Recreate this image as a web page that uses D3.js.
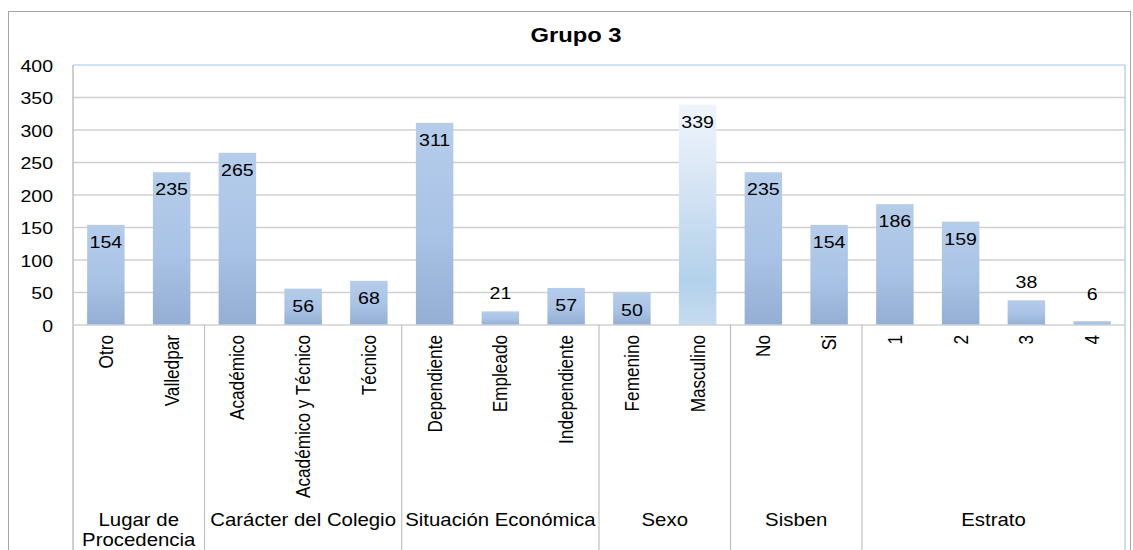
<!DOCTYPE html>
<html>
<head>
<meta charset="utf-8">
<script src="https://cdn.jsdelivr.net/npm/d3@7"></script>
<style>
  html, body { margin: 0; padding: 0; background: #fff; }
  svg { display: block; font-family: "Liberation Sans", Arial, sans-serif; }
</style>
</head>
<body>
<svg id="chart" width="1133" height="550"></svg>
<script>
// Category labels, in drawing order
const categories = ["Otro", "Valledpar", "Académico", "Académico y Técnico", "Técnico",
  "Dependiente", "Empleado", "Independiente", "Femenino", "Masculino",
  "No", "Si", "1", "2", "3", "4"];
// Counts for each category
const values = [154, 235, 265, 56, 68, 311, 21, 57, 50, 339, 235, 154, 186, 159, 38, 6];
// Grouping of categories (label lines, number of categories)
const groupNames = [["Lugar de", "Procedencia"], ["Carácter del Colegio"], ["Situación Económica"],
  ["Sexo"], ["Sisben"], ["Estrato"]];
const groupSizes = [2, 3, 3, 2, 2, 4];
const yTicks = [0, 50, 100, 150, 200, 250, 300, 350, 400];
const title = "Grupo 3";

const svg = d3.select("#chart");
const W = 1133, H = 550;
const plot = { left: 73, right: 1125, top: 65, bottom: 325 };
const SX = 1.15; // horizontal widening of the lettering

// Gradients
const defs = svg.append("defs");
const g1 = defs.append("linearGradient").attr("id", "barGrad").attr("x1", 0).attr("y1", 0).attr("x2", 0).attr("y2", 1);
g1.append("stop").attr("offset", "0%").attr("stop-color", "#b5cdeb");
g1.append("stop").attr("offset", "55%").attr("stop-color", "#a9c3e6");
g1.append("stop").attr("offset", "100%").attr("stop-color", "#94aed4");
const g2 = defs.append("linearGradient").attr("id", "barGradHi").attr("x1", 0).attr("y1", 0).attr("x2", 0).attr("y2", 1);
g2.append("stop").attr("offset", "0%").attr("stop-color", "#f0f5fc");
g2.append("stop").attr("offset", "40%").attr("stop-color", "#d3e3f3");
g2.append("stop").attr("offset", "80%").attr("stop-color", "#b2d1ea");
g2.append("stop").attr("offset", "100%").attr("stop-color", "#c6dcf0");

// Outer frame
svg.append("rect").attr("x", 8.5).attr("y", 11.5).attr("width", 1122).attr("height", 545)
  .attr("fill", "#fff").attr("stroke", "#a6a6a6").attr("stroke-width", 1);

// Title
svg.append("text").attr("transform", `translate(576,42) scale(1.22,1)`).attr("text-anchor", "middle")
  .attr("font-size", 19.5).attr("font-weight", "bold").attr("fill", "#000").text(title);

const x = d3.scaleBand().domain(categories).range([plot.left, plot.right]).paddingInner(0.43).paddingOuter(0.215);
const y = d3.scaleLinear().domain([0, 400]).range([plot.bottom, plot.top]);

// Gridlines
svg.append("g").selectAll("line").data(yTicks.filter(t => t > 0 && t < 400)).join("line")
  .attr("x1", plot.left).attr("x2", plot.right)
  .attr("y1", d => y(d)).attr("y2", d => y(d))
  .attr("stroke", "#d0d0d0").attr("stroke-width", 1.6);
svg.append("line").attr("x1", plot.left).attr("x2", plot.right).attr("y1", y(400)).attr("y2", y(400))
  .attr("stroke", "#c5d9ef").attr("stroke-width", 1.5);
svg.append("line").attr("x1", plot.right).attr("x2", plot.right).attr("y1", plot.top).attr("y2", H)
  .attr("stroke", "#b8d0ee").attr("stroke-width", 1.5);

// Y axis
const yAxis = d3.axisLeft(y).tickValues(yTicks).tickSize(0).tickPadding(20);
const ya = svg.append("g").attr("transform", `translate(${plot.left},0)`).call(yAxis);
ya.select(".domain").remove();
ya.selectAll(".tick text")
  .attr("x", null).attr("dy", null)
  .attr("transform", `translate(-20,6) scale(${SX},1)`)
  .attr("font-size", 17).attr("fill", "#000").attr("font-family", "Liberation Sans, Arial, sans-serif");
svg.append("line").attr("x1", plot.left).attr("x2", plot.left).attr("y1", plot.top).attr("y2", H)
  .attr("stroke", "#bfbfbf").attr("stroke-width", 1.5);

// Bars
svg.append("g").selectAll("rect").data(categories).join("rect")
  .attr("x", d => x(d)).attr("width", x.bandwidth())
  .attr("y", (d, i) => y(values[i])).attr("height", (d, i) => y(0) - y(values[i]))
  .attr("fill", d => d === "Masculino" ? "url(#barGradHi)" : "url(#barGrad)");

// Baseline
svg.append("line").attr("x1", plot.left).attr("x2", plot.right).attr("y1", y(0)).attr("y2", y(0))
  .attr("stroke", "#d0d0d0").attr("stroke-width", 1.6);

// Value labels: inside the bar top, or above it for short bars
svg.append("g").selectAll("text").data(categories).join("text")
  .attr("transform", (d, i) => {
    const v = values[i];
    const ty = v >= 45 ? y(v) + 23 : Math.min(y(v) - 12, 300);
    return `translate(${x(d) + x.bandwidth() / 2},${ty}) scale(${SX},1)`;
  })
  .attr("text-anchor", "middle").attr("font-size", 17).attr("fill", "#000")
  .text((d, i) => values[i]);

// Category labels (rotated)
svg.append("g").selectAll("text").data(categories).join("text")
  .attr("transform", d => `translate(${x(d) + x.bandwidth() / 2 + 7},335) scale(${SX},1) rotate(-90)`)
  .attr("text-anchor", "end").attr("font-size", 17.2).attr("fill", "#000")
  .text(d => d);

// Group separators and labels
let start = 0;
const step = x.step();
const sepX = [plot.left];
groupSizes.forEach((n, gi) => {
  const x0 = plot.left + start * step;
  const x1 = plot.left + (start + n) * step;
  sepX.push(x1);
  const cx = (x0 + x1) / 2;
  groupNames[gi].forEach((ln, li) => {
    svg.append("text").attr("transform", `translate(${cx},${526 + li * 20}) scale(1.12,1)`)
      .attr("text-anchor", "middle").attr("font-size", 18.2).attr("fill", "#000").text(ln);
  });
  start += n;
});
svg.append("g").selectAll("line").data(sepX.slice(1, -1)).join("line")
  .attr("x1", d => d).attr("x2", d => d).attr("y1", plot.bottom).attr("y2", H)
  .attr("stroke", "#bfbfbf").attr("stroke-width", 1.2);
</script>
</body>
</html>
